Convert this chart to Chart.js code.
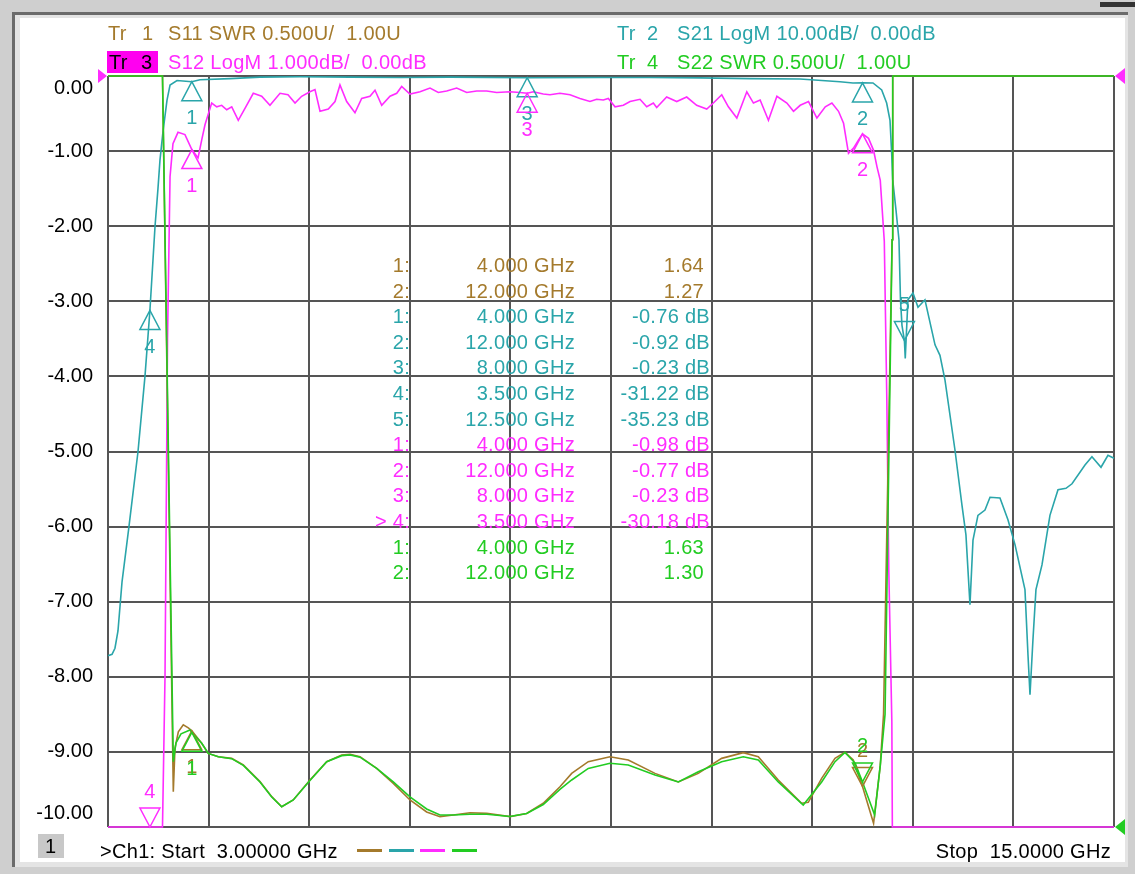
<!DOCTYPE html>
<html>
<head>
<meta charset="utf-8">
<script src="https://cdn.jsdelivr.net/npm/chart.js@4.4.1/dist/chart.umd.min.js"></script>
<style>
    body {
        margin: 0;
        width: 1135px;
        height: 874px;
        background: #cfcfcf;
        font-family: "Liberation Sans", Arial, sans-serif;
        overflow: hidden;
        position: relative;
    }
    #frame {
        position: absolute;
        left: 12px; top: 12px;
        width: 1116px; height: 855px;
        background: #e4e4e4;
        border-left: 3px solid #6b6b6b;
        border-top: 3px solid #6b6b6b;
        box-sizing: border-box;
    }
    #topbar {
        position: absolute;
        left: 1100px; top: 2px;
        width: 35px; height: 5px;
        background: #333;
    }
    #panel {
        position: absolute;
        left: 20px; top: 18px;
        width: 1105px; height: 844px;
        background: #fff;
    }
    #wrap {
        position: absolute;
        left: 0; top: 0;
        width: 1135px; height: 874px;
    }
    .t {
        position: absolute;
        font-size: 20px;
        letter-spacing: 0.3px;
        white-space: pre;
        line-height: 22px;
    }
    .r { text-align: right; }
    .dash {
        position: absolute;
        top: 849px;
        height: 3px;
        width: 25px;
    }
</style>
</head>
<body>

<div id="frame"></div>
<div id="topbar"></div>
<div id="panel"></div>

<div id="wrap">
    <canvas id="vna" width="1135" height="874"></canvas>
</div>

<div id="texts"></div>

<script>
// frequency grid, GHz
const freqGrid = [3, 4.2, 5.4, 6.6, 7.8, 9, 10.2, 11.4, 12.6, 13.8, 15];
const dbTicks = [0, -1, -2, -3, -4, -5, -6, -7, -8, -9, -10];

// Tr 2  S21 LogM (dB)
const s21Freq = [3.000, 3.048, 3.083, 3.119, 3.167, 3.250, 3.358, 3.441, 3.500, 3.561,
    3.596, 3.620, 3.656, 3.704, 3.740, 3.823, 4.000, 4.097, 4.455, 4.813,
    5.290, 5.887, 6.483, 7.079, 8.000, 8.869, 9.465, 10.061, 10.658, 11.254,
    11.731, 11.886, 12.000, 12.125, 12.229, 12.288, 12.328, 12.348, 12.360, 12.399,
    12.435, 12.453, 12.471, 12.500, 12.510, 12.542, 12.602, 12.662, 12.745, 12.865,
    12.924, 12.984, 13.103, 13.186, 13.234, 13.282, 13.318, 13.377, 13.461, 13.521,
    13.640, 13.735, 13.819, 13.938, 13.974, 13.998, 14.033, 14.069, 14.141, 14.236,
    14.332, 14.427, 14.499, 14.654, 14.737, 14.845, 14.928, 15.000];
const s21Db = [-77.2, -77.0, -76.2, -73.9, -67.4, -60.0, -50.0, -40.0, -31.22, -20.0,
    -15.0, -11.2, -7.4, -3.2, -1.2, -0.6, -0.76, -0.5, -0.35, -0.15,
    -0.1, -0.15, -0.2, -0.15, -0.23, -0.2, -0.2, -0.25, -0.35, -0.4,
    -0.76, -0.93, -0.92, -0.93, -1.86, -3.6, -5.9, -10.3, -13.8, -17.8,
    -21.8, -29.8, -33.2, -35.23, -37.6, -29.8, -28.9, -30.8, -29.8, -35.8,
    -37.2, -40.5, -49.8, -57.1, -61.1, -70.4, -61.8, -58.5, -57.8, -56.1,
    -56.2, -59.1, -62.4, -68.4, -77.1, -82.4, -75.1, -68.4, -65.1, -58.5,
    -55.1, -54.9, -54.3, -51.8, -50.7, -52.1, -50.5, -50.9];

// Tr 3  S12 LogM (dB), pinned to the bottom edge where it is off screen
const s12Freq = [3.000, 3.650, 3.680, 3.710, 3.740, 3.775, 3.835, 3.918, 4.000, 4.074,
    4.118, 4.157, 4.237, 4.297, 4.356, 4.416, 4.476, 4.554, 4.634, 4.733,
    4.833, 4.932, 5.052, 5.147, 5.231, 5.310, 5.409, 5.469, 5.529, 5.628,
    5.708, 5.767, 5.847, 5.946, 6.026, 6.125, 6.185, 6.265, 6.364, 6.444,
    6.503, 6.602, 6.722, 6.841, 6.940, 7.040, 7.159, 7.279, 7.398, 7.517,
    7.636, 7.795, 7.914, 8.000, 8.073, 8.192, 8.272, 8.391, 8.511, 8.630,
    8.749, 8.829, 8.908, 8.968, 9.048, 9.147, 9.227, 9.346, 9.426, 9.505,
    9.545, 9.664, 9.784, 9.903, 10.022, 10.142, 10.221, 10.321, 10.400, 10.501,
    10.620, 10.699, 10.779, 10.878, 10.979, 11.098, 11.177, 11.257, 11.356, 11.456,
    11.556, 11.635, 11.714, 11.774, 11.833, 11.893, 11.953, 12.000, 12.072, 12.132,
    12.173, 12.212, 12.260, 12.290, 12.314, 12.350, 12.356, 15.000];
const s12Db = [-10, -10, -8.0, -3.5, -1.34, -0.9, -0.75, -0.78, -0.98, -1.09,
    -0.85, -0.65, -0.36, -0.41, -0.39, -0.45, -0.41, -0.59, -0.43, -0.23,
    -0.27, -0.39, -0.23, -0.25, -0.36, -0.27, -0.21, -0.18, -0.47, -0.44,
    -0.34, -0.12, -0.34, -0.49, -0.30, -0.27, -0.19, -0.39, -0.27, -0.23,
    -0.14, -0.24, -0.21, -0.16, -0.22, -0.20, -0.16, -0.22, -0.20, -0.20,
    -0.22, -0.21, -0.22, -0.23, -0.21, -0.24, -0.25, -0.23, -0.25, -0.30,
    -0.34, -0.31, -0.32, -0.30, -0.41, -0.39, -0.34, -0.31, -0.41, -0.36,
    -0.42, -0.28, -0.34, -0.28, -0.39, -0.44, -0.36, -0.25, -0.41, -0.56,
    -0.21, -0.36, -0.32, -0.59, -0.27, -0.36, -0.47, -0.39, -0.34, -0.56,
    -0.41, -0.36, -0.47, -0.63, -1.03, -0.96, -0.85, -0.77, -0.83, -0.99,
    -1.21, -1.39, -2.2, -4.3, -6.6, -8.6, -10, -10];

// Tr 1  S11 SWR, pinned to the top edge where it is off screen
const s11Freq = [3.000, 3.650, 3.779, 3.799, 3.839, 3.898, 3.958, 4.000, 4.118, 4.196,
    4.316, 4.475, 4.614, 4.813, 4.953, 5.072, 5.210, 5.409, 5.609, 5.788,
    5.887, 6.006, 6.205, 6.403, 6.602, 6.801, 6.960, 7.119, 7.318, 7.517,
    7.795, 7.994, 8.192, 8.391, 8.531, 8.729, 8.988, 9.206, 9.525, 9.803,
    10.041, 10.320, 10.578, 10.757, 10.995, 11.274, 11.353, 11.513, 11.672, 11.791,
    11.890, 12.000, 12.132, 12.212, 12.251, 12.353, 12.361, 15.000];
const s11Swr = [6.0, 6.0, 1.235, 1.526, 1.634, 1.68, 1.66, 1.64, 1.557, 1.49,
    1.468, 1.457, 1.413, 1.302, 1.202, 1.135, 1.18, 1.313, 1.435, 1.479,
    1.484, 1.468, 1.39, 1.29, 1.18, 1.10, 1.069, 1.08, 1.095, 1.091,
    1.069, 1.09, 1.158, 1.268, 1.357, 1.435, 1.468, 1.446, 1.357, 1.30,
    1.357, 1.457, 1.495, 1.468, 1.313, 1.158, 1.164, 1.324, 1.457, 1.497,
    1.446, 1.27, 1.025, 1.41, 1.75, 4.91, 6.0, 6.0];

// Tr 4  S22 SWR
const s22Freq = [3.000, 3.650, 3.779, 3.811, 3.871, 3.978, 4.000, 4.118, 4.196, 4.316,
    4.475, 4.614, 4.813, 4.953, 5.072, 5.210, 5.409, 5.609, 5.788, 5.887,
    6.006, 6.205, 6.403, 6.602, 6.801, 6.960, 7.119, 7.318, 7.517, 7.795,
    7.994, 8.192, 8.391, 8.531, 8.729, 8.988, 9.206, 9.525, 9.803, 10.041,
    10.320, 10.578, 10.757, 10.995, 11.293, 11.513, 11.672, 11.791, 11.914, 12.000,
    12.145, 12.212, 12.269, 12.353, 12.360, 15.000];
const s22Swr = [6.0, 6.0, 1.435, 1.56, 1.62, 1.646, 1.63, 1.557, 1.49, 1.468,
    1.455, 1.41, 1.30, 1.20, 1.135, 1.18, 1.31, 1.435, 1.475, 1.48,
    1.465, 1.39, 1.30, 1.20, 1.12, 1.08, 1.08, 1.085, 1.085, 1.07,
    1.09, 1.15, 1.25, 1.313, 1.39, 1.424, 1.413, 1.346, 1.30, 1.368,
    1.435, 1.468, 1.446, 1.30, 1.146, 1.30, 1.435, 1.497, 1.424, 1.30,
    1.08, 1.41, 1.75, 4.91, 6.0, 6.0];

// markers (table values)
const s11MarkFreq = [4.0, 12.0];
const s11MarkVal = [1.64, 1.27];
const s21MarkFreq = [4.0, 12.0, 8.0, 3.5, 12.5];
const s21MarkVal = [-0.76, -0.92, -0.23, -31.22, -35.23];
const s12MarkFreq = [4.0, 12.0, 8.0, 3.5];
const s12MarkVal = [-0.98, -0.77, -0.23, -30.18];
const s22MarkFreq = [4.0, 12.0];
const s22MarkVal = [1.63, 1.30];

const BROWN = "#a47a2c";
const CYAN = "#2aa5aa";
const PINK = "#ff2cff";
const GREEN = "#22cc22";

const FONT = "20px 'Liberation Sans', Arial, sans-serif";

function pts(fs, vs) {
    return fs.map((f, i) => ({ x: f, y: vs[i] }));
}

const markerSets = [
    { freq: s21MarkFreq, val: s21MarkVal, axis: "yS21", color: CYAN, down: [5] },
    { freq: s12MarkFreq, val: s12MarkVal, axis: "y", color: PINK, down: [4] },
    { freq: s11MarkFreq, val: s11MarkVal, axis: "ySwr", color: BROWN, down: [2] },
    { freq: s22MarkFreq, val: s22MarkVal, axis: "ySwr", color: GREEN, down: [2] }
];

function tri(ctx, p, fill) {
    ctx.beginPath();
    ctx.moveTo(p[0][0], p[0][1]);
    ctx.lineTo(p[1][0], p[1][1]);
    ctx.lineTo(p[2][0], p[2][1]);
    ctx.closePath();
    if (fill) ctx.fill(); else ctx.stroke();
}

const vnaOverlay = {
    id: "vnaOverlay",
    afterDraw(chart) {
        const ctx = chart.ctx;
        const area = chart.chartArea;
        const xs = chart.scales.x;
        const yDb = chart.scales.y;

        ctx.save();

        // left axis labels
        ctx.font = FONT;
        ctx.fillStyle = "#000";
        ctx.textAlign = "right";
        ctx.textBaseline = "middle";
        dbTicks.forEach(v => {
            let py = yDb.getPixelForValue(v);
            if (v === yDb.max) py += 12;
            if (v === yDb.min) py -= 14;
            ctx.fillText(v.toFixed(2), area.left - 15, py);
        });

        // reference level arrows
        const refTop = yDb.getPixelForValue(0);
        const refSwr = chart.scales.ySwr.getPixelForValue(1);
        ctx.fillStyle = PINK;
        tri(ctx, [[area.left - 10, refTop - 7], [area.left - 10, refTop + 7], [area.left - 1, refTop]], true);
        tri(ctx, [[area.right + 11, refTop - 8], [area.right + 11, refTop + 8], [area.right + 1, refTop]], true);
        ctx.fillStyle = GREEN;
        tri(ctx, [[area.right + 11, refSwr - 8], [area.right + 11, refSwr + 8], [area.right + 1, refSwr]], true);

        // markers
        ctx.lineWidth = 1.5;
        ctx.textAlign = "center";
        markerSets.forEach(set => {
            const ys = chart.scales[set.axis];
            ctx.strokeStyle = set.color;
            ctx.fillStyle = set.color;
            set.freq.forEach((f, i) => {
                const px = xs.getPixelForValue(f);
                let py = ys.getPixelForValue(set.val[i]);
                py = Math.min(Math.max(py, area.top), area.bottom);
                const n = i + 1;
                if (set.down.includes(n)) {
                    tri(ctx, [[px, py], [px - 10, py - 19], [px + 10, py - 19]], false);
                    ctx.fillText(String(n), px, py - 35);
                } else {
                    tri(ctx, [[px, py], [px - 10, py + 19], [px + 10, py + 19]], false);
                    ctx.fillText(String(n), px, py + 37);
                }
            });
        });

        ctx.restore();
    }
};

const gridStyle = {
    color: "#555",
    lineWidth: 2,
    drawTicks: false
};

new Chart(
    document.getElementById("vna"),
    {
        type: "line",

        data: {
            datasets: [
                { label: "S22", data: pts(s22Freq, s22Swr), yAxisID: "ySwr", borderColor: GREEN },
                { label: "S11", data: pts(s11Freq, s11Swr), yAxisID: "ySwr", borderColor: BROWN },
                { label: "S12", data: pts(s12Freq, s12Db), yAxisID: "y", borderColor: PINK },
                { label: "S21", data: pts(s21Freq, s21Db), yAxisID: "yS21", borderColor: CYAN }
            ]
        },

        options: {
            responsive: false,
            animation: false,
            devicePixelRatio: 1,
            layout: {
                padding: { left: 108, top: 76, right: 21, bottom: 47 }
            },
            elements: {
                point: { radius: 0 },
                line: { borderWidth: 1.6, tension: 0 }
            },
            datasets: {
                line: { clip: 2 }
            },
            plugins: {
                legend: { display: false },
                tooltip: { enabled: false }
            },
            scales: {
                x: {
                    type: "linear",
                    min: 3,
                    max: 15,
                    afterBuildTicks: s => { s.ticks = freqGrid.map(v => ({ value: v })); },
                    ticks: { display: false },
                    grid: gridStyle,
                    border: { display: false }
                },
                y: {
                    type: "linear",
                    min: -10,
                    max: 0,
                    afterBuildTicks: s => { s.ticks = dbTicks.map(v => ({ value: v })); },
                    ticks: { display: false },
                    grid: gridStyle,
                    border: { display: false }
                },
                yS21: { type: "linear", min: -100, max: 0, display: false },
                ySwr: { type: "linear", min: 1, max: 6, display: false }
            }
        },

        plugins: [vnaOverlay]
    }
);

// text layer
const texts = document.getElementById("texts");

function addText(str, props) {
    const el = document.createElement("div");
    el.className = "t" + (props.right !== undefined ? " r" : "");
    el.textContent = str;
    if (props.left !== undefined) el.style.left = props.left + "px";
    if (props.right !== undefined) el.style.right = (1135 - props.right) + "px";
    el.style.top = (props.cy - 11) + "px";
    el.style.color = props.color || "#000";
    texts.appendChild(el);
    return el;
}

// header
const box = document.createElement("div");
box.style.cssText = "position:absolute;left:107px;top:51px;width:51px;height:22px;background:#ff00f0;";
texts.appendChild(box);

addText("Tr", { left: 108, cy: 33, color: BROWN });
addText("1", { left: 142, cy: 33, color: BROWN });
addText("S11 SWR 0.500U/  1.00U", { left: 168, cy: 33, color: BROWN });
addText("Tr", { left: 109, cy: 62, color: "#000" });
addText("3", { left: 141, cy: 62, color: "#000" });
addText("S12 LogM 1.000dB/  0.00dB", { left: 168, cy: 62, color: PINK });
addText("Tr", { left: 617, cy: 33, color: CYAN });
addText("2", { left: 647, cy: 33, color: CYAN });
addText("S21 LogM 10.00dB/  0.00dB", { left: 677, cy: 33, color: CYAN });
addText("Tr", { left: 617, cy: 62, color: GREEN });
addText("4", { left: 647, cy: 62, color: GREEN });
addText("S22 SWR 0.500U/  1.00U", { left: 677, cy: 62, color: GREEN });

// marker table
const tableGroups = [
    { freq: s11MarkFreq, val: s11MarkVal, unit: "", color: BROWN },
    { freq: s21MarkFreq, val: s21MarkVal, unit: " dB", color: CYAN },
    { freq: s12MarkFreq, val: s12MarkVal, unit: " dB", color: PINK, active: 4 },
    { freq: s22MarkFreq, val: s22MarkVal, unit: "", color: GREEN }
];

let row = 0;
tableGroups.forEach(g => {
    g.freq.forEach((f, i) => {
        const cy = 265 + row * 25.6;
        const n = i + 1;
        addText((g.active === n ? "> " : "") + n + ":", { right: 410, cy: cy, color: g.color });
        addText(f.toFixed(3) + " GHz", { right: 575, cy: cy, color: g.color });
        addText(g.val[i].toFixed(2) + g.unit, { right: g.unit ? 710 : 704, cy: cy, color: g.color });
        row++;
    });
});

// footer
const chBox = document.createElement("div");
chBox.style.cssText = "position:absolute;left:38px;top:834px;width:26px;height:24px;background:#c8c8c8;";
texts.appendChild(chBox);
addText("1", { left: 45, cy: 846 });
addText(">Ch1: Start  3.00000 GHz", { left: 100, cy: 851 });
addText("Stop  15.0000 GHz", { right: 1111, cy: 851 });

[[357, BROWN], [389, CYAN], [420, PINK], [452, GREEN]].forEach(d => {
    const el = document.createElement("div");
    el.className = "dash";
    el.style.left = d[0] + "px";
    el.style.background = d[1];
    texts.appendChild(el);
});
</script>
</body>
</html>
